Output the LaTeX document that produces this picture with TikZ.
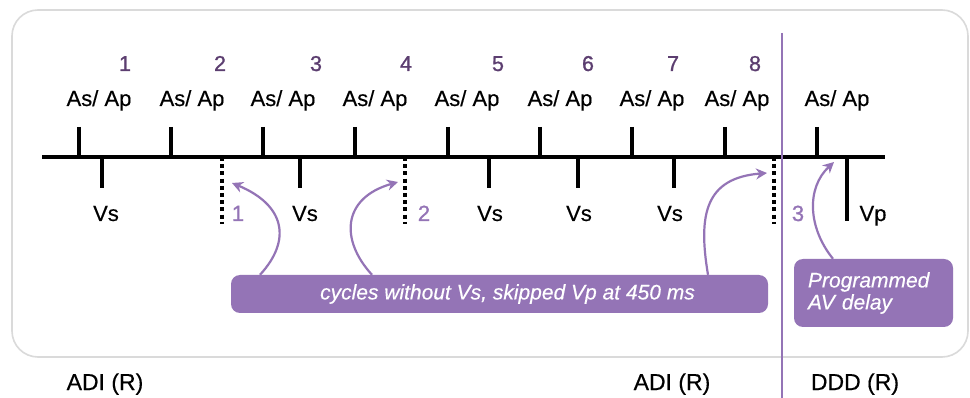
\documentclass[tikz,border=0pt]{standalone}
\usepackage{fontspec}
\setmainfont[FakeBold=0.4]{Liberation Sans}
\newfontfamily\numfont[FakeBold=1.0]{Liberation Sans}
\usetikzlibrary{arrows.meta}
\definecolor{boxpurple}{RGB}{148,116,182}
\definecolor{darkpurple}{RGB}{92,62,112}
\definecolor{framegray}{RGB}{218,218,218}
\begin{document}
\begin{tikzpicture}[x=1pt,y=-1pt,
  tick/.style={line width=4pt,black},
  dottick/.style={line width=4pt,black,dash pattern=on 4pt off 3.2pt},
  toplabel/.style={font=\fontsize{22}{26}\selectfont,inner sep=0pt,anchor=base},
  numlabel/.style={font=\numfont\fontsize{21.5}{24}\selectfont,text=darkpurple,inner sep=0pt,anchor=base},
  skiplabel/.style={font=\numfont\fontsize{22}{24}\selectfont,text=boxpurple,inner sep=0pt,anchor=base},
  botlabel/.style={font=\fontsize{23}{27}\selectfont,inner sep=0pt,anchor=base},
  callout/.style={fill=boxpurple,rounded corners=9pt,text=white,font=\fontsize{21}{22}\selectfont\itshape},
  arr/.style={draw=boxpurple,line width=2.2pt,-{Stealth[length=11pt,width=11pt]}}
]
\useasboundingbox (0,0) rectangle (970,398);
\fill[white] (0,0) rectangle (970,398);
\draw[framegray,line width=1.6pt,rounded corners=26pt,fill=white] (12,10) rectangle (968,357);

% timeline
\draw[line width=4pt] (42,157) -- (885,157);
% atrial ticks
\foreach \x in {79,171,263,355,448,540,632,725,817}{\draw[tick] (\x,127) -- (\x,157);}
% ventricular sensed ticks
\foreach \x in {102,300,489,578,674}{\draw[tick] (\x,157) -- (\x,188);}
% paced
\draw[tick] (847,157) -- (847,221);
% skipped (dotted)
\coordinate (d1) at (222,157);
\coordinate (d2) at (405,157);
\coordinate (d3) at (774,157);
\foreach \c in {d1,d2,d3}{\draw[dottick] (\c) -- ++(0,67);}

% vertical separator
\draw[boxpurple,line width=2.2pt] (782,33) -- (782,398);

% numbers
\foreach \x/\n in {125/1,220/2,316/3,406/4,498/5,588/6,673/7,755/8}{\node[numlabel] (n\n) at (\x,71) {\n};}
% As/Ap labels
\foreach \x/\n in {99/1,192/2,283/3,375/4,467/5,560/6,652/7,737/8,837/9}{\node[toplabel] (a\n) at (\x,106) {As/ Ap};}
% Vs labels
\foreach \x/\n in {106/1,305/2,490/3,579/4,670/5}{\node[toplabel] (v\n) at (\x,221) {Vs};}
\node[toplabel] (vp) at (873,221) {Vp};
% skip numbers
\node[skiplabel] (s1) at (238,221) {1};
\node[skiplabel] (s2) at (424,221) {2};
\node[skiplabel] (s3) at (798,221) {3};

% callouts
\node[callout,minimum width=537pt,minimum height=38pt,inner sep=0pt] (cyc) at (499.5,294) {\hspace*{16pt}cycles without Vs, skipped Vp at 450 ms};
\node[callout,minimum height=68pt,text width=131pt,inner xsep=14pt,inner ysep=0pt,align=left] (av) at (873.5,293) {Programmed\\AV delay};

% arrows
\coordinate (t1) at (232,183);
\coordinate (t2) at (398,182);
\coordinate (t3) at (767,173);
\coordinate (t4) at (834,162);
\draw[arr] (cyc.north -| 260,0) .. controls (292,240) and (285,205) .. (t1);
\draw[arr] (cyc.north -| 372,0) .. controls (340,240) and (342,198) .. (t2);
\draw[arr] (cyc.north -| 708,0) .. controls (698,215) and (705,178) .. (t3);
\draw[arr] (av.north -| 833,0) .. controls (808,228) and (806,188) .. (t4);

% bottom labels
\node[botlabel] (adi1) at (105,390) {ADI (R)};
\node[botlabel] (adi2) at (672,390) {ADI (R)};
\node[botlabel] (ddd) at (855,390) {DDD (R)};
\end{tikzpicture}
\end{document}
